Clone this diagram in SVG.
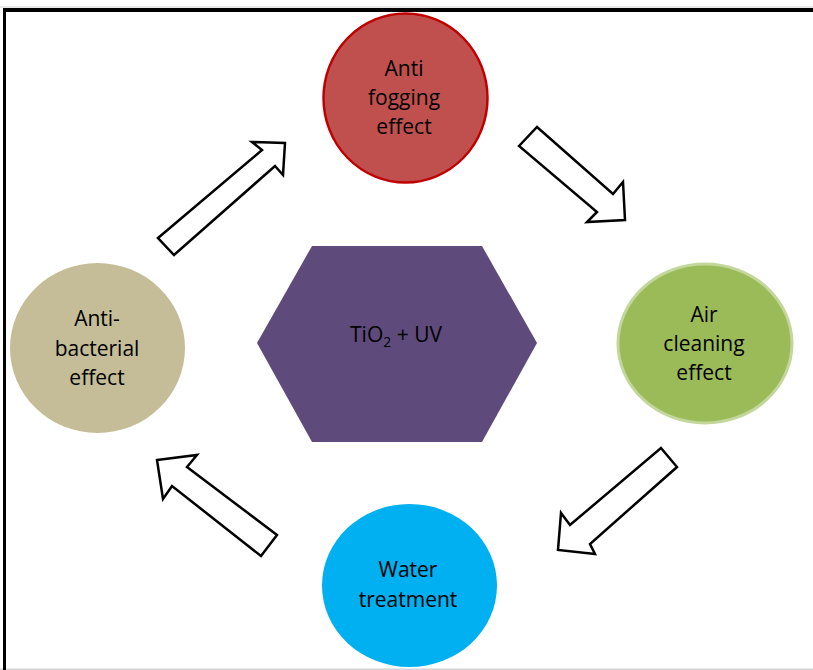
<svg xmlns="http://www.w3.org/2000/svg" width="813" height="670" viewBox="0 0 813 670">
<style>
text{font-family:"Open Sans","Liberation Sans",sans-serif;font-size:21px;fill:#000;text-anchor:middle}
.arrow{fill:#fff;stroke:#000;stroke-width:2.5;stroke-linejoin:miter}
</style>
<rect width="813" height="670" fill="#fff"/>
<g id="frame">
<rect x="0" y="6.5" width="813" height="1" fill="#d4d4d4"/>
<rect x="0" y="668.5" width="813" height="1.5" fill="#d4d4d4"/>
<rect x="3" y="8" width="810" height="4" fill="#000"/>
<rect x="3" y="8" width="3" height="662" fill="#000"/>
</g>
<g id="connectors">
<polygon class="arrow" points="158,238 262,150 252,142 285,143 283,175 275,166 174,255"/>
<polygon class="arrow" points="519,146 537,127 613,194 623,182 625,220 587,222 597,212"/>
<polygon class="arrow" points="661,448 677,467 590,544 595,554 558,550 561,513 570,525"/>
<polygon class="arrow" points="157,460 197,455 187,467 277,535 261,556 172,486 163,499"/>
</g>
<g id="center">
<polygon points="312,246 482,246 537,343 482,442 312,442 257,343" fill="#5F4B7B"/>
<text x="396" y="342">TiO<tspan font-size="14" dy="5">2</tspan><tspan dy="-5"> + UV</tspan></text>
</g>
<g id="anti-fogging">
<ellipse cx="405.5" cy="98" rx="82" ry="84.5" fill="#C0504D" stroke="#C00000" stroke-width="2.5"/>
<text x="404" y="76">Anti</text>
<text x="404" y="105">fogging</text>
<text x="404" y="134">effect</text>
</g>
<g id="air-cleaning">
<ellipse cx="705" cy="343.5" rx="87" ry="79.5" fill="#9BBB59" stroke="#C3D69B" stroke-width="3"/>
<text x="704" y="322">Air</text>
<text x="704" y="351">cleaning</text>
<text x="704" y="380">effect</text>
</g>
<g id="water-treatment">
<ellipse cx="409.5" cy="585.5" rx="87.5" ry="81.5" fill="#00B0F0"/>
<text x="408" y="577">Water</text>
<text x="408" y="607">treatment</text>
</g>
<g id="anti-bacterial">
<ellipse cx="97.5" cy="348" rx="87.5" ry="85" fill="#C4BD97"/>
<text x="97" y="326">Anti-</text>
<text x="97" y="356">bacterial</text>
<text x="97" y="385">effect</text>
</g>
</svg>
